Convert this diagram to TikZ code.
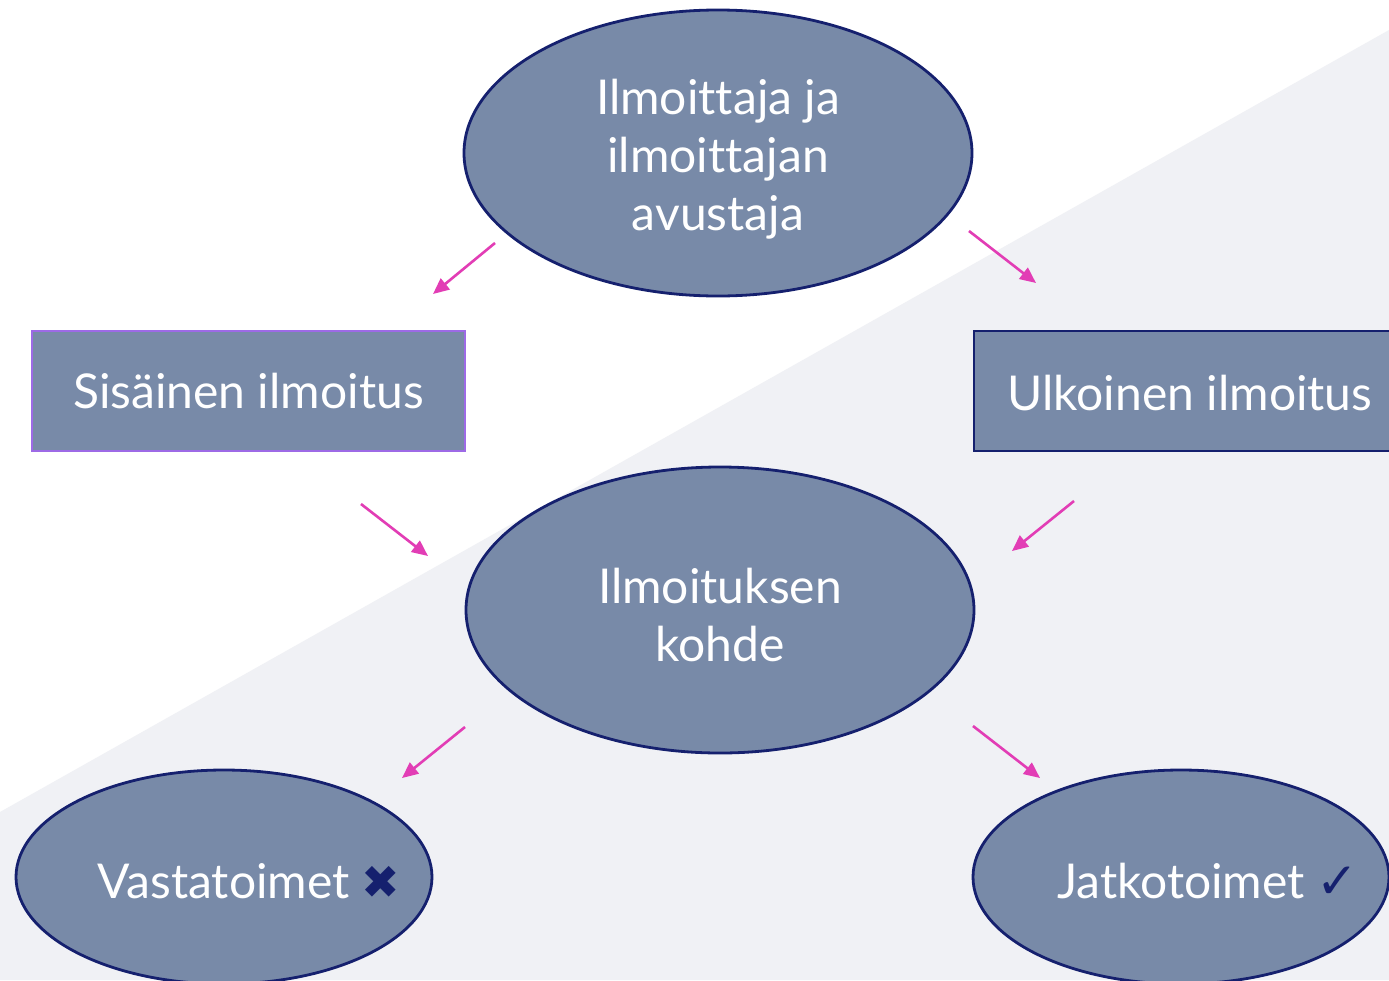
\documentclass[tikz,border=0pt]{standalone}
\usepackage{fontspec}
\setmainfont{Lato}[Ligatures=NoCommon]
\newfontfamily\symfont{DejaVu Sans}
\usetikzlibrary{shapes.geometric,arrows.meta}
\definecolor{bgwhite}{HTML}{FFFFFF}
\definecolor{bggray}{HTML}{F0F1F5}
\definecolor{boxfill}{HTML}{788AA8}
\definecolor{navy}{HTML}{15206E}
\definecolor{violet}{HTML}{9D6AE6}
\definecolor{pinkarrow}{HTML}{E23DB5}
\tikzset{
  x=1pt, y=-1pt,
  oval/.style={ellipse, draw=navy, fill=boxfill, line width=2.8pt, inner sep=0pt},
  bigoval/.style={oval, minimum width=508pt, minimum height=286pt},
  smalloval/.style={oval, minimum width=416pt, minimum height=214pt},
  rectbox/.style={rectangle, fill=boxfill, line width=2.6pt, inner sep=0pt, minimum height=120pt},
  lbl/.style={text=white, font=\fontsize{48}{58}\selectfont, align=center},
  pinkarr/.style={draw=pinkarrow, line width=2.6pt, -{Triangle[length=16pt,width=14pt]}},
}
\begin{document}
\begin{tikzpicture}
\useasboundingbox (0,0) rectangle (1389,980);
\clip (0,0) rectangle (1389,980);
\fill[bgwhite] (0,0) rectangle (1389,980);
\fill[bggray] (0,812) -- (1389,30) -- (1389,980) -- (0,980) -- cycle;

% nodes
\node[bigoval] (top) at (718,153) {};
\node[lbl] (toptext) at (718,159) {Ilmoittaja ja\\ilmoittajan\\avustaja};
\node[bigoval] (mid) at (720,610) {};
\node[lbl] (midtext) at (720,615) {Ilmoituksen\\kohde};
\node[rectbox, draw=violet, minimum width=433pt, lbl] (sis) at (248.5,391) {Sisäinen ilmoitus};
\node[rectbox, draw=navy, minimum width=440pt] (ulk) at (1194,391) {};
\node[lbl] (ulktext) at (1190,393) {Ulkoinen ilmoitus};
\node[smalloval] (vast) at (224,877) {};
\node[lbl, anchor=base] (vasttext) at (249,898) {Vastatoimet {\symfont\color{navy}\fontsize{46}{46}\selectfont ✖}};
\node[smalloval] (jatk) at (1181,877) {};
\node[lbl, anchor=base] (jatktext) at (1208,898) {Jatkotoimet {\symfont\bfseries\color{navy}\fontsize{50}{50}\selectfont ✓}};

% arrow end points
\coordinate (a1s) at (495,243); \coordinate (a1e) at (433,294);
\coordinate (a2s) at (969,231); \coordinate (a2e) at (1036,283);
\coordinate (a3s) at (361,504); \coordinate (a3e) at (428,556);
\coordinate (a4s) at (1074,501); \coordinate (a4e) at (1012,551);
\coordinate (a5s) at (465,727); \coordinate (a5e) at (402,778);
\coordinate (a6s) at (973,726); \coordinate (a6e) at (1040,778);

\draw[pinkarr] (a1s) -- (a1e);
\draw[pinkarr] (a2s) -- (a2e);
\draw[pinkarr] (a3s) -- (a3e);
\draw[pinkarr] (a4s) -- (a4e);
\draw[pinkarr] (a5s) -- (a5e);
\draw[pinkarr] (a6s) -- (a6e);
\end{tikzpicture}
\end{document}
